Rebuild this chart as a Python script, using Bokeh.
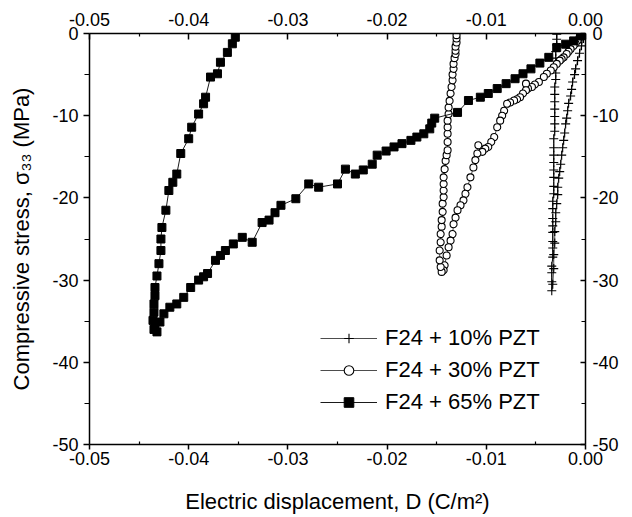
from bokeh.plotting import figure
from bokeh.models import (Range1d, LinearAxis, FixedTicker, PrintfTickFormatter,
                          Legend, LegendItem)
from bokeh.embed import file_html
from bokeh.resources import INLINE

# ---------------- data (D in C/m^2, stress in MPa) ----------------
x_ticks = [-0.05, -0.04, -0.03, -0.02, -0.01, 0.0]
x_minor = [-0.045, -0.035, -0.025, -0.015, -0.005]
y_ticks = [-50, -40, -30, -20, -10, 0]
y_minor = [-45, -35, -25, -15, -5]

labels = ["F24 + 10% PZT", "F24 + 30% PZT", "F24 + 65% PZT"]

x10 = [0.0000, -0.0002, -0.0004, -0.0006, -0.0008, -0.0010, -0.0011, -0.0013, -0.0014, -0.0015,
       -0.0017, -0.0018, -0.0019, -0.0020, -0.0021, -0.0022, -0.0023, -0.0024, -0.0025, -0.0026,
       -0.0027, -0.0028, -0.0028, -0.0029, -0.0030, -0.0030, -0.0031, -0.0031, -0.0032, -0.0032,
       -0.0033,
       -0.0034, -0.0034, -0.0034, -0.0034, -0.0033, -0.0033, -0.0033, -0.0033, -0.0033, -0.0033,
       -0.0033, -0.0033, -0.0032, -0.0032, -0.0032, -0.0032, -0.0032, -0.0032, -0.0032, -0.0032,
       -0.0031, -0.0031, -0.0031, -0.0031, -0.0031, -0.0031, -0.0031, -0.0030, -0.0030, -0.0030,
       -0.0030, -0.0030, -0.0029, -0.0029, -0.0029]
y10 = [0.0, -0.6, -1.5, -2.4, -3.3, -4.3, -5.0, -5.9, -6.8, -7.6,
       -8.5, -9.4, -10.3, -11.0, -12.1, -13.0, -13.9, -14.8, -15.9, -16.8,
       -17.6, -18.7, -19.6, -20.7, -21.8, -22.9, -24.1, -25.5, -26.9, -28.6,
       -30.5,
       -31.3, -30.2, -29.1, -28.3, -27.2, -26.1, -25.3, -24.2, -23.4, -22.5,
       -21.3, -20.4, -19.5, -18.6, -17.5, -16.6, -15.7, -14.8, -13.9, -12.8,
       -11.9, -11.0, -10.1, -9.2, -8.3, -7.4, -6.5, -5.6, -4.8, -3.9,
       -3.0, -2.2, -1.4, -0.7, -0.1]

x30 = [0.0000, -0.0003, -0.0006, -0.0008, -0.0010, -0.0012, -0.0015, -0.0017, -0.0019, -0.0022,
       -0.0024, -0.0026, -0.0029, -0.0032, -0.0035, -0.0039, -0.0042, -0.0047, -0.0051, -0.0054,
       -0.0058, -0.0060, -0.0060, -0.0063, -0.0066, -0.0069, -0.0072, -0.0076, -0.0079, -0.0082,
       -0.0084, -0.0086, -0.0089, -0.0092, -0.0095, -0.0098, -0.0101, -0.0104, -0.0108, -0.0109,
       -0.0111, -0.0113, -0.0116, -0.0119, -0.0121, -0.0123, -0.0126, -0.0129, -0.0131, -0.0133,
       -0.0134, -0.0136, -0.0138, -0.0140, -0.0142, -0.0143, -0.0145,
       -0.0146, -0.0147, -0.0147, -0.0146, -0.0146, -0.0145, -0.0145, -0.0144, -0.0144, -0.0143,
       -0.0143, -0.0143, -0.0143, -0.0142, -0.0141, -0.0140, -0.0139, -0.0139, -0.0139, -0.0139,
       -0.0139, -0.0138, -0.0138, -0.0137, -0.0136, -0.0135, -0.0134, -0.0134, -0.0133, -0.0133,
       -0.0132, -0.0131, -0.0131, -0.0131, -0.0130, -0.0130, -0.0130]
y30 = [0.0, -0.24, -0.5, -0.85, -1.2, -1.5, -1.9, -2.2, -2.5, -2.9,
       -3.1, -3.3, -3.7, -4.1, -4.5, -4.9, -5.3, -5.9, -6.2, -6.5,
       -6.7, -6.1, -6.9, -7.3, -7.75, -8.0, -8.15, -8.4, -8.55, -9.4,
       -10.0, -10.6, -11.4, -12.6, -13.2, -13.8, -14.0, -14.4, -13.6, -14.6,
       -15.4, -16.3, -17.5, -18.7, -19.5, -20.3, -20.9, -21.5, -22.4, -23.2,
       -24.4, -25.2, -26.0, -27.0, -28.2, -28.8, -29.0,
       -28.4, -27.6, -26.4, -25.4, -24.4, -23.5, -22.7, -21.7, -20.7, -19.9,
       -19.1, -18.3, -17.5, -16.5, -15.5, -14.8, -14.2, -13.2, -12.2, -11.4,
       -10.6, -9.8, -9.0, -8.2, -7.3, -6.5, -5.7, -5.0, -4.3, -3.7,
       -3.0, -2.5, -2.1, -1.6, -1.1, -0.6, -0.2]

x65 = [0.0000, -0.0005, -0.0012, -0.0020, -0.0029, -0.0037, -0.0046, -0.0055, -0.0063, -0.0071,
       -0.0080, -0.0089, -0.0098, -0.0106, -0.0118, -0.0129, -0.0152, -0.0155, -0.0157, -0.0163,
       -0.0170, -0.0176, -0.0185, -0.0193, -0.0201, -0.0210, -0.0215, -0.0224, -0.0232, -0.0242,
       -0.0250, -0.0269, -0.0279, -0.0292, -0.0307, -0.0313, -0.0319, -0.0326, -0.0336, -0.0346,
       -0.0355, -0.0363, -0.0368, -0.0373, -0.0381, -0.0385, -0.0390, -0.0398, -0.0405, -0.0412,
       -0.0419, -0.0425, -0.0429, -0.0434, -0.0432, -0.0435, -0.0436, -0.0435, -0.0435, -0.0434,
       -0.0434, -0.0432, -0.0430, -0.0428, -0.0428, -0.0427, -0.0423, -0.0420, -0.0416, -0.0412,
       -0.0408, -0.0400, -0.0397, -0.0390, -0.0385, -0.0383, -0.0378, -0.0371, -0.0368, -0.0361,
       -0.0356, -0.0353]
y65 = [0.0, -0.3, -0.9, -1.3, -1.7, -2.9, -3.6, -4.3, -4.9, -5.5,
       -6.1, -6.7, -7.3, -7.75, -8.15, -9.6, -10.3, -10.9, -11.6, -12.2,
       -12.6, -13.0, -13.4, -13.8, -14.3, -14.8, -15.9, -16.6, -17.1, -16.5,
       -18.3, -18.7, -18.3, -20.1, -20.9, -21.8, -22.7, -23.0, -25.4, -24.8,
       -25.6, -26.4, -27.0, -27.6, -29.2, -29.6, -30.0, -30.9, -32.1, -32.9,
       -33.3, -34.1, -35.1, -35.7, -36.3, -36.0, -34.9, -33.9, -32.9, -31.9,
       -30.9, -29.5, -28.0, -26.4, -25.0, -23.6, -21.5, -19.1, -18.1, -17.1,
       -14.6, -12.8, -11.4, -9.8, -8.55, -7.75, -5.3, -4.9, -3.5, -2.3,
       -1.25, -0.45]

assert len(x10) == len(y10) and len(x30) == len(y30) and len(x65) == len(y65)

FONT = "Liberation Sans"

p = figure(width=632, height=517, output_backend="svg", toolbar_location=None,
           x_range=Range1d(-0.05, 0.0), y_range=Range1d(-50, 0),
           x_axis_location=None, y_axis_location=None,
           min_border_left=89, min_border_right=47, min_border_top=33, min_border_bottom=73)
p.grid.visible = False
p.outline_line_color = None
p.background_fill_color = "white"
p.border_fill_color = "white"


def style_axis(ax, size="18px"):
    ax.axis_line_width = 1.5
    ax.axis_line_color = "black"
    ax.major_tick_line_width = 1.5
    ax.minor_tick_line_width = 1.2
    ax.major_tick_line_color = "black"
    ax.minor_tick_line_color = "black"
    ax.major_label_text_font = FONT
    ax.major_label_text_font_size = size
    ax.major_label_text_color = "black"
    ax.axis_label_text_font = FONT
    ax.axis_label_text_font_style = "normal"
    ax.axis_label_text_font_size = "22px"
    ax.axis_label_text_color = "black"
    return ax


xfmt = PrintfTickFormatter(format="%.2f")
yfmt = PrintfTickFormatter(format="%d")

bottom = style_axis(LinearAxis(ticker=FixedTicker(ticks=x_ticks, minor_ticks=x_minor), formatter=xfmt))
bottom.major_tick_out, bottom.major_tick_in = 5, 0
bottom.minor_tick_out, bottom.minor_tick_in = 0, 3
bottom.major_label_standoff = 2
bottom.axis_label = "Electric displacement, D (C/m\u00b2)"
bottom.axis_label_standoff = 21

top = style_axis(LinearAxis(ticker=FixedTicker(ticks=x_ticks, minor_ticks=x_minor), formatter=xfmt))
top.major_tick_out, top.major_tick_in = 0, 6
top.minor_tick_out, top.minor_tick_in = 0, 3
top.major_label_standoff = 8

left = style_axis(LinearAxis(ticker=FixedTicker(ticks=y_ticks, minor_ticks=y_minor), formatter=yfmt))
left.major_tick_out, left.major_tick_in = 6, 0
left.minor_tick_out, left.minor_tick_in = 5, 0
left.major_label_standoff = 5
left.axis_label = "Compressive stress, \u03c3\u2083\u2083 (MPa)"
left.axis_label_standoff = 15

right = style_axis(LinearAxis(ticker=FixedTicker(ticks=y_ticks, minor_ticks=y_minor), formatter=yfmt))
right.major_tick_out, right.major_tick_in = 0, 5
right.minor_tick_out, right.minor_tick_in = 0, 4
right.major_label_standoff = 7

p.add_layout(bottom, "below")
p.add_layout(top, "above")
p.add_layout(left, "left")
p.add_layout(right, "right")

# ---------------- series ----------------
r10l = p.line(x10, y10, line_color="black", line_width=0.7)
r10m = p.scatter(x10, y10, marker="cross", size=9, line_color="black", line_width=1.1)
r30l = p.line(x30, y30, line_color="black", line_width=0.7)
r30m = p.scatter(x30, y30, marker="circle", size=7, line_color="black", line_width=1.1,
                 fill_color="white")
r65l = p.line(x65, y65, line_color="black", line_width=0.9)
r65m = p.scatter(x65, y65, marker="square", size=8, line_color="black", line_width=1,
                 fill_color="black")

legend = Legend(items=[LegendItem(label=labels[0], renderers=[r10l, r10m]),
                       LegendItem(label=labels[1], renderers=[r30l, r30m]),
                       LegendItem(label=labels[2], renderers=[r65l, r65m])],
                location=(231, 29), orientation="vertical",
                glyph_width=57, glyph_height=24, label_height=24, label_standoff=8,
                spacing=6, padding=0, margin=0,
                border_line_color=None, background_fill_alpha=0,
                label_text_font=FONT, label_text_font_size="22px",
                label_text_color="black")
p.add_layout(legend)

open("out.html", "w").write(file_html(p, INLINE))
